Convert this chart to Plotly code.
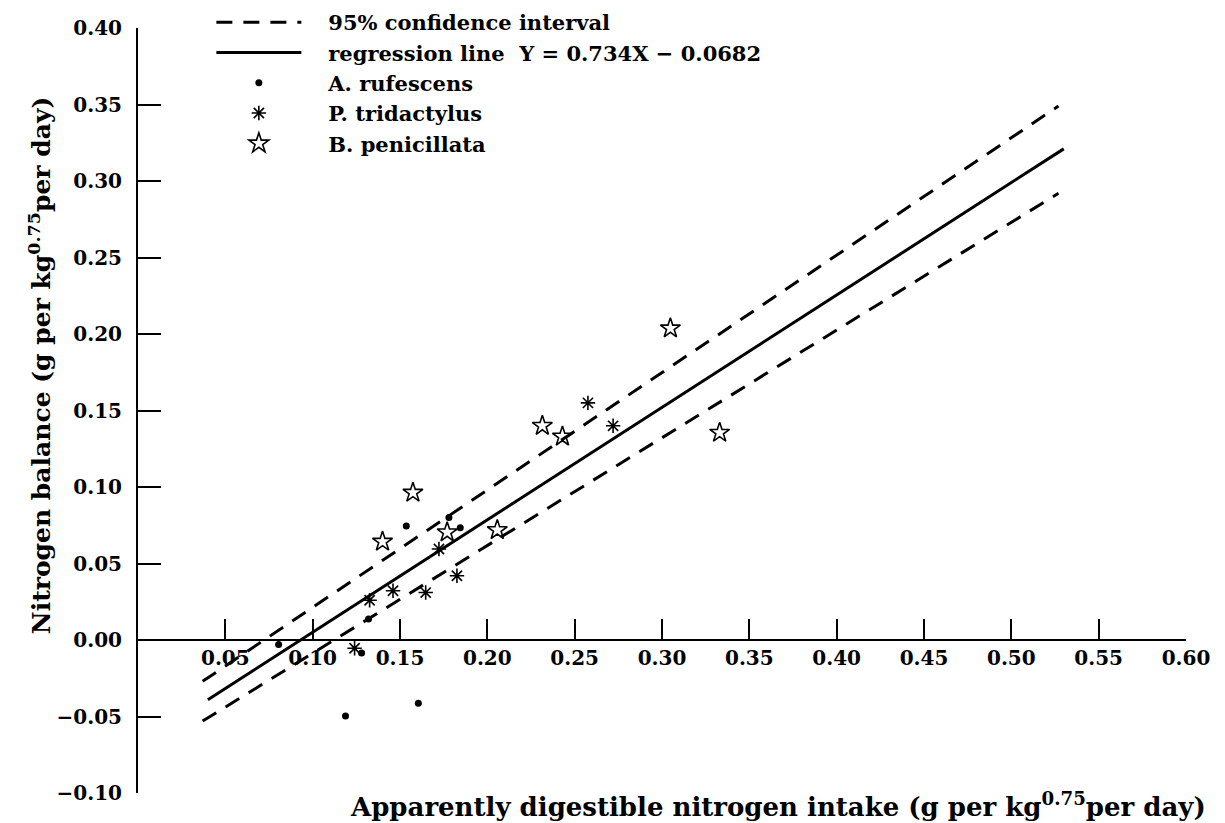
import plotly.graph_objects as go

# ---- data ----
rufescens_x = [0.0805, 0.128, 0.132, 0.1536, 0.178, 0.1845, 0.1605, 0.1188]
rufescens_y = [-0.003, -0.0085, 0.0137, 0.0745, 0.080, 0.0734, -0.0414, -0.0497]

tridactylus_x = [0.124, 0.1326, 0.146, 0.1647, 0.1723, 0.1826, 0.2576, 0.272]
tridactylus_y = [-0.0054, 0.026, 0.0322, 0.031, 0.0595, 0.042, 0.155, 0.140]

penicillata_x = [0.140, 0.1574, 0.177, 0.2057, 0.2315, 0.243, 0.3048, 0.333]
penicillata_y = [0.0643, 0.0963, 0.0704, 0.0719, 0.140, 0.133, 0.2037, 0.1355]

reg_x = [0.040, 0.530]
reg_y = [-0.039, 0.321]
ci_upper_x = [0.037, 0.527]
ci_upper_y = [-0.027, 0.349]
ci_lower_x = [0.037, 0.527]
ci_lower_y = [-0.053, 0.292]

x_ticks = [0.05, 0.10, 0.15, 0.20, 0.25, 0.30, 0.35, 0.40, 0.45, 0.50, 0.55, 0.60]
y_ticks = [-0.10, -0.05, 0.00, 0.05, 0.10, 0.15, 0.20, 0.25, 0.30, 0.35, 0.40]

FONT = "DejaVu Serif"
BLACK = "black"
PAD = "\u00a0" * 3  # gap between legend key and its text

fig = go.Figure()

fig.add_trace(go.Scatter(x=ci_upper_x, y=ci_upper_y, mode="lines",
                         line=dict(color=BLACK, width=3, dash="16px,11px"),
                         name=PAD + "95% confidence interval", legendgroup="ci",
                         legendrank=1))
fig.add_trace(go.Scatter(x=ci_lower_x, y=ci_lower_y, mode="lines",
                         line=dict(color=BLACK, width=3, dash="16px,11px"),
                         name=PAD + "95% confidence interval", legendgroup="ci",
                         showlegend=False))
fig.add_trace(go.Scatter(x=reg_x, y=reg_y, mode="lines",
                         line=dict(color=BLACK, width=3),
                         name=PAD + "regression line\u00a0\u00a0Y = 0.734X \u2212 0.0682",
                         legendgroup="reg", legendrank=2))
fig.add_trace(go.Scatter(x=rufescens_x, y=rufescens_y, mode="markers",
                         marker=dict(symbol="circle", size=7, color=BLACK),
                         name=PAD + "A. rufescens", legendgroup="a", legendrank=3))
fig.add_trace(go.Scatter(x=tridactylus_x, y=tridactylus_y, mode="markers",
                         marker=dict(symbol="asterisk-open", size=12, color=BLACK,
                                     line=dict(color=BLACK, width=1.6)),
                         name=PAD + "P. tridactylus", legendgroup="p", legendrank=4))
fig.add_trace(go.Scatter(x=penicillata_x, y=penicillata_y, mode="markers",
                         marker=dict(symbol="star-open", size=15, color=BLACK,
                                     line=dict(color=BLACK, width=1.6)),
                         name=PAD + "B. penicillata", legendgroup="b", legendrank=5))

fig.update_layout(
    width=1225, height=823,
    margin=dict(l=138, r=39, t=28, b=30, autoexpand=False),
    paper_bgcolor="white", plot_bgcolor="white",
    font=dict(family=FONT, color=BLACK, size=20, weight="bold"),
    showlegend=True,
    legend=dict(x=0.07, y=1.034, xanchor="left", yanchor="top",
                bgcolor="rgba(0,0,0,0)", borderwidth=0,
                font=dict(family=FONT, size=21, color=BLACK, weight="bold"),
                itemwidth=85, tracegroupgap=0, traceorder="normal"),
    xaxis=dict(range=[0, 0.6], anchor="free", position=0.2,
               showline=True, linecolor=BLACK, linewidth=2,
               ticks="inside", ticklen=20, tickwidth=2, tickcolor=BLACK,
               tickvals=x_ticks, ticktext=[f"{v:.2f}" for v in x_ticks],
               tickfont=dict(family=FONT, size=20, weight="bold"),
               showgrid=False, zeroline=False),
    yaxis=dict(range=[-0.1, 0.4],
               showline=True, linecolor=BLACK, linewidth=2,
               ticks="inside", ticklen=23, tickwidth=2, tickcolor=BLACK,
               tickvals=y_ticks,
               ticktext=[(f"{v:.2f}" if v >= 0 else "\u2212" + f"{abs(v):.2f}") for v in y_ticks],
               tickfont=dict(family=FONT, size=20, weight="bold"),
               ticklabelstandoff=10,
               showgrid=False, zeroline=False),
)

fig.add_annotation(
    text="Apparently digestible nitrogen intake (g per kg<sup>0.75</sup>per day)",
    xref="paper", yref="paper", x=0.611, y=-0.016, xanchor="center", yanchor="middle",
    showarrow=False, font=dict(family=FONT, size=26, color=BLACK, weight="bold"))

fig.add_annotation(
    text="Nitrogen balance (g per kg<sup>0.75</sup>per day)",
    xref="paper", yref="paper", x=-0.0935, y=0.558, xanchor="center", yanchor="middle",
    textangle=-90, showarrow=False,
    font=dict(family=FONT, size=25, color=BLACK, weight="bold"))

fig.write_html("out.html")
